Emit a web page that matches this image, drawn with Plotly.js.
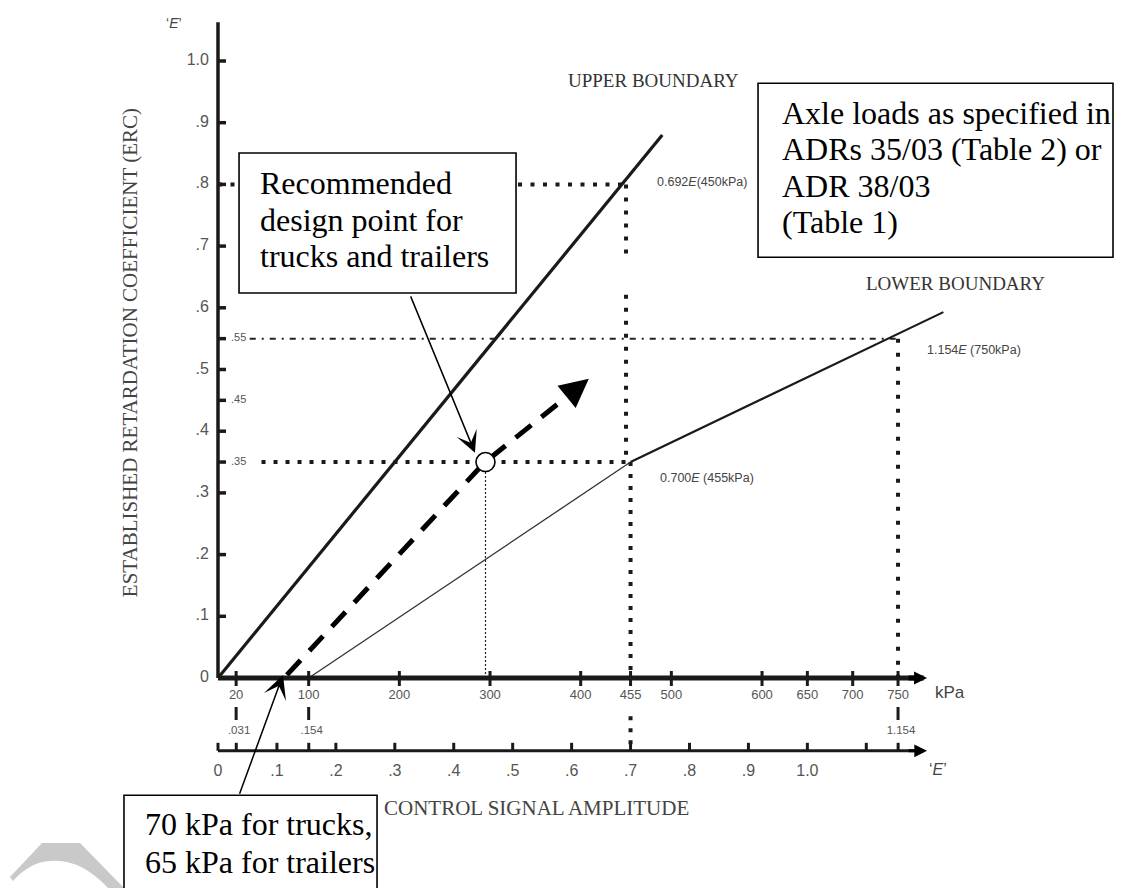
<!DOCTYPE html>
<html><head><meta charset="utf-8">
<script src="https://cdn.plot.ly/plotly-3.0.1.min.js"></script>
<style>html,body{margin:0;padding:0;background:#fff;}#chart{width:1124px;height:888px;}</style>
</head><body><div id="chart"></div>
<script>
// ---------------- values ----------------
const ercTicks = [0.1, 0.2, 0.3, 0.4, 0.5, 0.6, 0.7, 0.8, 0.9, 1.0];
const ercTickLabels = ['.1', '.2', '.3', '.4', '.5', '.6', '.7', '.8', '.9', '1.0'];
const ercMarks = [0.55, 0.45, 0.35];
const ercMarkLabels = ['.55', '.45', '.35'];
const kpaTicks = [20, 100, 200, 300, 400, 455, 500, 600, 650, 700, 750];
const kpaTickLabels = ['20', '100', '200', '300', '400', '455', '500', '600', '650', '700', '750'];
const kpaRefTicks = [20, 100, 750];
const kpaRefLabels = ['.031', '.154', '1.154'];
const eTicks = [0, 0.1, 0.2, 0.3, 0.4, 0.5, 0.6, 0.7, 0.8, 0.9, 1.0];
const eTickLabels = ['0', '.1', '.2', '.3', '.4', '.5', '.6', '.7', '.8', '.9', '1.0'];
const eMinorTicks = [0.031, 0.154, 1.1, 1.154];
const KPA_PER_E = 650;

const upperKpa = [0, 490];
const upperErc = [0, 0.88];
const lowerKpaA = [100, 455];
const lowerErcA = [0, 0.35];
const lowerKpaB = [455, 800];
const lowerErcB = [0.35, 0.593];
const designKpa = [76, 294.5, 384];
const designErc = [0.005, 0.35, 0.455];
const designTip = [409, 0.485];
const designPointKpa = [295];
const designPointErc = [0.35];

// reference guide values
const upperRef = [450, 0.8];
const kneeRef = [455, 0.35];
const lowerEndRef = [750, 0.55];

// ---------------- scale set-up ----------------
const W = 1124, H = 888;
const X0 = 218, KX = 0.9067, Y0 = 678, KY = 617;
const xRange = [-X0 / KX, (W - X0) / KX];
const yRange = [(Y0 - H) / KY, Y0 / KY];
const kpp = 1 / KX, epp = 1 / KY;     // data units per pixel

const E_AXIS = -0.118;
const AXIS_END = 770;
const TIP = 782;
const ink = '#1a1a1a';
const sans = '"Liberation Sans", Arial, sans-serif';
const serif = '"Liberation Serif", "Times New Roman", serif';

function line(x, y, width, dash, color) {
  return {type: 'scatter', mode: 'lines', x: x, y: y, hoverinfo: 'skip',
    line: {color: color || ink, width: width, dash: dash || 'solid'}};
}
function texts(x, y, t, pos, size, color, family) {
  return {type: 'scatter', mode: 'text', x: x, y: y, text: t, textposition: pos,
    hoverinfo: 'skip', cliponaxis: false,
    textfont: {family: family || sans, size: size, color: color || '#555'}};
}

const traces = [];
// guide (dotted) lines
traces.push(line([0, upperRef[0]], [upperRef[1], upperRef[1]], 4, '4px,8.5px'));
traces.push(line([upperRef[0], upperRef[0], null, upperRef[0], upperRef[0]],
                 [upperRef[1], 0.686, null, 0.621, kneeRef[1]], 4, '4px,9px'));
traces.push(line([48, kneeRef[0]], [kneeRef[1], kneeRef[1]], 4, '4px,8px'));
traces.push(line([kneeRef[0], kneeRef[0], null, kneeRef[0], kneeRef[0]],
                 [kneeRef[1], 0, null, -0.062, E_AXIS], 4, '4px,8px'));
traces.push(line([35, lowerEndRef[0]], [lowerEndRef[1], lowerEndRef[1]], 2, '6px,6px,2px,6px', '#222'));
traces.push(line([lowerEndRef[0], lowerEndRef[0]], [lowerEndRef[1], 0], 4, '4px,10px'));
traces.push(line([designPointKpa[0], designPointKpa[0]], [designPointErc[0] - 10 * epp, 0], 1.2, '2px,2px', '#222'));

// boundaries
traces.push(line(upperKpa, upperErc, 3.2));
traces.push(line(lowerKpaA, lowerErcA, 1.3, 'solid', '#333'));
traces.push(line(lowerKpaB, lowerErcB, 2.2));

// design arrow (dashed)
traces.push(line(designKpa, designErc, 5, '20px,13px', '#000'));
traces.push({type: 'scatter', mode: 'markers', x: designPointKpa, y: designPointErc, hoverinfo: 'skip',
  marker: {symbol: 'circle', size: 19, color: '#fff', line: {color: '#000', width: 1.6}}});

// axes lines
traces.push(line([0, 0], [0, 1.063], 3.5));
traces.push(line([0, AXIS_END], [0, 0], 5));
traces.push(line([0, AXIS_END], [E_AXIS, E_AXIS], 3));

// tick marks
(function () {
  let x = [], y = [];
  ercTicks.concat(ercMarks).forEach(v => { x.push(0, 8 * kpp, null); y.push(v, v, null); });
  traces.push(line(x, y, 3.5));
  x = []; y = [];
  kpaTicks.forEach(k => { x.push(k, k, null); y.push(7 * epp, -8 * epp, null); });
  traces.push(line(x, y, 3));
  x = []; y = [];
  kpaRefTicks.forEach(k => { x.push(k, k, null); y.push(-29 * epp, -42 * epp, null); });
  traces.push(line(x, y, 3));
  x = []; y = [];
  eTicks.concat(eMinorTicks).forEach(e => { x.push(e * KPA_PER_E, e * KPA_PER_E, null); y.push(E_AXIS, E_AXIS + 8 * epp, null); });
  traces.push(line(x, y, 3));
})();

// tick labels
traces.push(texts(ercTicks.map(() => -10).concat([-10]), ercTicks.concat([0]),
  ercTickLabels.concat(['0']), 'middle left', 16));
traces.push(texts(ercMarks.map(() => 13 * kpp), ercMarks, ercMarkLabels, 'middle right', 11));
traces.push(texts(kpaTicks, kpaTicks.map(() => -0.028), kpaTickLabels, 'middle center', 13));
traces.push(texts(kpaRefTicks.map(k => k + 3 * kpp), kpaRefTicks.map(() => -0.086), kpaRefLabels, 'middle center', 11.5));
traces.push(texts(eTicks.map(e => e * KPA_PER_E), eTicks.map(() => -0.152), eTickLabels, 'middle center', 16));

// ---------------- annotations ----------------
function note(x, y, text, size, opts) {
  return Object.assign({xref: 'x', yref: 'y', x: x, y: y, text: text, showarrow: false,
    font: {family: serif, size: size, color: '#000'}, xanchor: 'left', yanchor: 'middle'}, opts || {});
}
function arrow(tip, tail, head, width, size, color) {
  return {xref: 'x', yref: 'y', axref: 'x', ayref: 'y', x: tip[0], y: tip[1], ax: tail[0], ay: tail[1],
    text: '', showarrow: true, arrowhead: head, arrowwidth: width, arrowsize: size, arrowcolor: color || '#000'};
}
const annotations = [
  note(480.3, 0.969, 'UPPER BOUNDARY', 19, {xanchor: 'center', font: {family: serif, size: 19, color: '#333'}}),
  note(813.9, 0.640, 'LOWER BOUNDARY', 19, {xanchor: 'center', font: {family: serif, size: 19, color: '#333'}}),
  note(482, 0.804, '0.692<i>E</i>(450kPa)', 12.5, {font: {family: sans, size: 12.5, color: '#444'}}),
  note(485.3, 0.324, '0.700<i>E</i> (455kPa)', 12.5, {font: {family: sans, size: 12.5, color: '#444'}}),
  note(779.8, 0.532, '1.154<i>E</i> (750kPa)', 12.5, {font: {family: sans, size: 12.5, color: '#444'}}),
  note(-97.1, 0.528, 'ESTABLISHED RETARDATION COEFFICIENT (ERC)', 21,
       {xanchor: 'center', textangle: -90, font: {family: serif, size: 21, color: '#444'}}),
  note(351.8, -0.211, 'CONTROL SIGNAL AMPLITUDE', 21, {xanchor: 'center', font: {family: serif, size: 21, color: '#444'}}),
  note(807.3, -0.023, 'kPa', 17, {xanchor: 'center', font: {family: sans, size: 17, color: '#444'}}),
  note(794.1, -0.149, '‘<i>E</i>’', 16, {xanchor: 'center', font: {family: sans, size: 16, color: '#444'}}),
  note(-48.5, 1.062, '‘<i>E</i>’', 14, {xanchor: 'center', font: {family: sans, size: 14, color: '#444'}}),
  // box 1
  note(44.1, 0.803, 'Recommended', 32),
  note(44.1, 0.743, 'design point for', 32),
  note(44.1, 0.684, 'trucks and trailers', 32),
  // box 2
  note(619.8, 0.916, 'Axle loads as specified in', 32),
  note(619.8, 0.857, 'ADRs 35/03 (Table 2) or', 32),
  note(619.8, 0.797, 'ADR 38/03', 32),
  note(619.8, 0.739, '(Table 1)', 32),
  // box 3
  note(-82.7, -0.237, '70 kPa for trucks,', 32),
  note(-82.7, -0.298, '65 kPa for trailers', 32),
  // arrows
  arrow(designTip, [384, 0.455], 2, 5, 1.15),
  arrow([283.4, 0.365], [211.8, 0.621], 3, 1.5, 2.4),
  arrow([71.7, 0.005], [23.2, -0.190], 3, 1.5, 2.6),
  arrow([TIP, 0], [AXIS_END - 10, 0], 2, 5, 0.52),
  arrow([TIP, E_AXIS], [AXIS_END - 10, E_AXIS], 2, 3, 0.85)
];

const box = (x0, x1, y0, y1) => ({type: 'rect', xref: 'x', yref: 'y', x0: x0, x1: x1, y0: y0, y1: y1,
  fillcolor: '#fff', line: {color: '#000', width: 1.6}, layer: 'above'});
const shapes = [
  box(23.2, 328.7, 0.624, 0.851),
  box(595.6, 987.1, 0.682, 0.964),
  box(-103.7, 175.4, -0.360, -0.190),
  {type: 'path', xref: 'paper', yref: 'paper', layer: 'below', fillcolor: '#c9c9c9', line: {width: 0},
   path: 'M0.0089,0.0124 L0.0374,0.0507 L0.0712,0.0507 L0.1103,0 L0.0961,0 Q0.0712,0.0338 0.0445,0.0304 Q0.0267,0.0293 0.0116,0.0079 Z'}
];

const layout = {
  width: W, height: H, margin: {l: 0, r: 0, t: 0, b: 0},
  paper_bgcolor: '#fff', plot_bgcolor: '#fff', showlegend: false,
  xaxis: {range: xRange, visible: false, fixedrange: true},
  yaxis: {range: yRange, visible: false, fixedrange: true},
  annotations: annotations, shapes: shapes
};
Plotly.newPlot('chart', traces, layout, {displayModeBar: false, staticPlot: true});
</script></body></html>
